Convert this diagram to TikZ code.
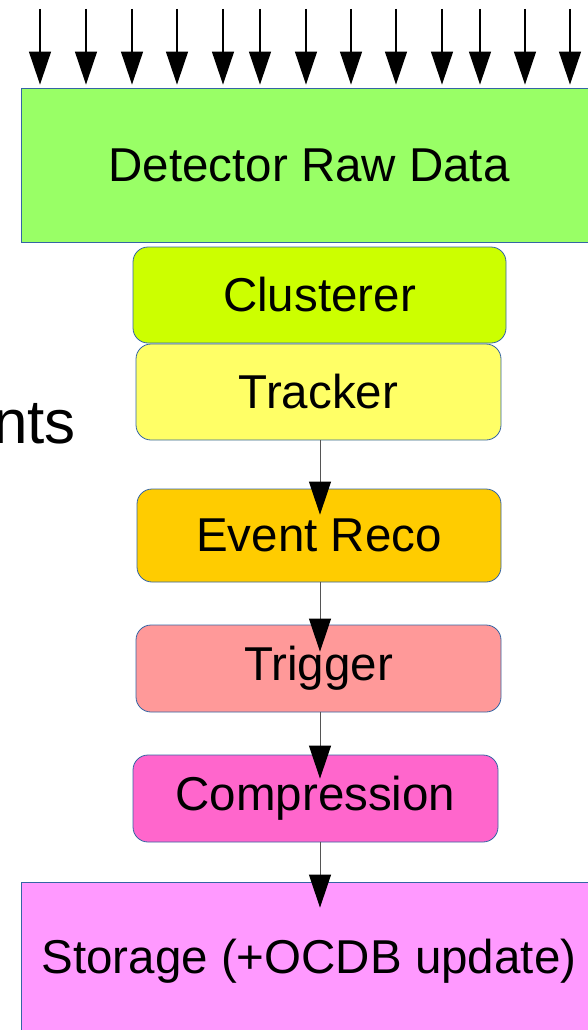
\documentclass[tikz,border=0pt]{standalone}
\usepackage{fontspec}
\setmainfont{Liberation Sans}
\usetikzlibrary{arrows.meta,calc}
\definecolor{colEdge}{HTML}{3465A4}
\definecolor{colRaw}{HTML}{99FF66}
\definecolor{colClus}{HTML}{CCFF00}
\definecolor{colTrk}{HTML}{FFFF66}
\definecolor{colEvt}{HTML}{FFCC00}
\definecolor{colTrg}{HTML}{FF9999}
\definecolor{colCmp}{HTML}{FF66CC}
\definecolor{colSto}{HTML}{FF99FF}
\definecolor{colLine}{HTML}{555555}
\tikzset{
  bigbox/.style={draw=colEdge,line width=0.8pt,inner sep=0pt,align=center,
    font=\fontsize{47.5}{57}\selectfont},
  stagebox/.style={bigbox,rounded corners=15pt},
  flow/.style={-{Triangle[length=33pt,width=22pt,color=black]},line width=1pt,draw=colLine},
  inarr/.style={-{Triangle[length=33pt,width=22pt]},line width=1.2pt,draw=black},
}
\begin{document}
\begin{tikzpicture}[x=1pt,y=-1pt]
  \useasboundingbox (0,0) rectangle (588,1030);
  \node[bigbox,fill=colRaw,minimum width=576pt,minimum height=154pt] (det) at (309,165)
    {Detector Raw Data};
  \node[stagebox,fill=colClus,minimum width=373pt,minimum height=96pt] (clu) at (319.5,295)
    {Clusterer};
  \node[stagebox,fill=colTrk,minimum width=365pt,minimum height=96pt] (trk) at (318.5,392)
    {Tracker};
  \node[stagebox,fill=colEvt,minimum width=364pt,minimum height=93pt] (evt) at (319,535.5)
    {Event Reco};
  \node[stagebox,fill=colTrg,minimum width=365pt,minimum height=87pt] (trg) at (318.5,668.5)
    {Trigger};
  \node[stagebox,fill=colCmp,minimum width=365pt,minimum height=87pt] (cmp) at (315.5,798.5)
    {Compression};
  \node[bigbox,fill=colSto,minimum width=576pt,minimum height=158pt] (sto) at (309,961)
    {Storage (+OCDB update)};
  \node[font=\fontsize{62}{70}\selectfont,inner sep=0pt,anchor=base east] (evts) at (76,443) {nts};
  % inputs into the raw data
  \foreach \x [count=\i] in {40,86,132,177,223,260,306,351,396,442,480,525,570}{
    \coordinate (in\i) at (\x,9);
    \draw[inarr,shorten >=3pt] (in\i) -- (in\i |- det.north);
  }
  % processing chain
  \draw[flow,shorten >=-26pt] (trk.south -| 320,0) -- (evt.north -| 320,0);
  \draw[flow,shorten >=-27pt] (evt.south -| 320,0) -- (trg.north -| 320,0);
  \draw[flow,shorten >=-24pt] (trg.south -| 320,0) -- (cmp.north -| 320,0);
  \draw[flow,shorten >=-26pt] (cmp.south -| 320,0) -- (sto.north -| 320,0);
\end{tikzpicture}
\end{document}
